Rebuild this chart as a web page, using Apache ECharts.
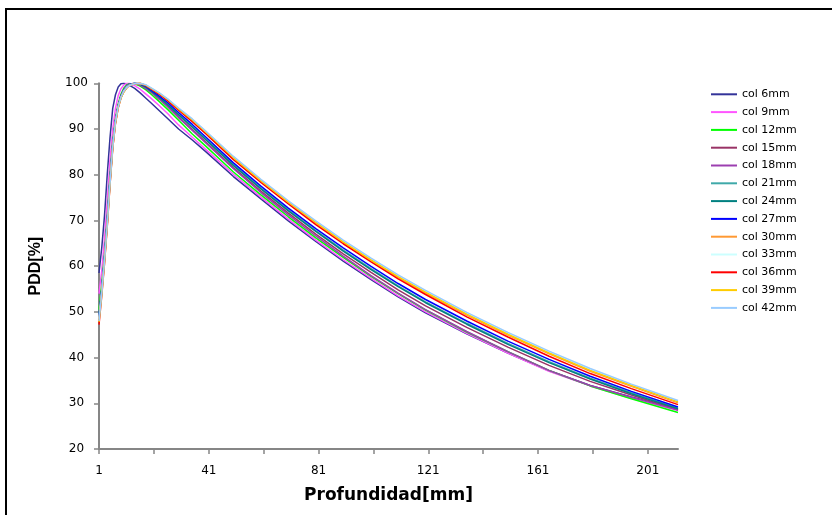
<!DOCTYPE html>
<html><head><meta charset="utf-8">
<script src="https://cdn.jsdelivr.net/npm/echarts@6/dist/echarts.min.js"></script>
<style>html,body{margin:0;padding:0;background:#fff}#c{width:832px;height:515px}</style>
</head><body><div id="c"></div>
<script>
// depth in mm (x values)
const depths = [1,2,3,4,5,6,7,8,9,10,11,12,14,16,18,20,23,26,30,35,40,50,60,70,80,90,100,110,120,135,150,165,180,195,212];

const col6  = [58.5,64.0,71.0,80.0,88.0,94.5,97.5,99.2,99.9,100,99.9,99.6,98.9,97.9,96.8,95.7,94.0,92.3,90.0,87.6,85.0,79.6,74.7,69.9,65.4,61.1,57.1,53.3,49.8,45.2,41.0,37.1,33.9,31.4,28.7];
const col9  = [54.0,59.0,66.0,74.0,83.0,90.0,94.5,97.3,98.8,99.6,100,100,99.5,98.7,97.7,96.7,95.1,93.4,90.9,88.2,85.5,80.1,75.1,70.3,65.7,61.4,57.4,53.5,50.0,45.3,41.0,37.0,33.8,31.1,28.4];
const col12 = [50.5,56.0,62.5,70.5,79.5,87.2,92.2,95.5,97.6,98.9,99.6,99.9,99.9,99.4,98.6,97.6,96.0,94.3,91.9,88.9,86.2,80.6,75.6,70.8,66.2,61.9,57.8,54.0,50.4,45.6,41.3,37.2,33.8,31.0,28.0];
const col15 = [49.0,55.0,61.8,69.8,78.8,86.6,91.9,95.2,97.3,98.6,99.4,99.8,100,99.6,98.9,98.1,96.6,95.0,92.6,89.9,87.1,81.5,76.4,71.6,67.0,62.7,58.7,54.8,51.3,46.6,42.3,38.3,34.8,31.8,28.6];
const col18 = [48.5,54.4,61.3,69.3,78.3,86.2,91.6,95.0,97.1,98.5,99.3,99.8,100,99.6,98.9,98.0,96.5,94.9,92.5,89.7,86.9,81.3,76.1,71.2,66.6,62.2,58.0,54.1,50.5,45.7,41.3,37.2,33.9,31.3,28.5];
const col21 = [49.5,55.2,62.0,70.0,79.0,86.7,91.9,95.1,97.2,98.5,99.3,99.8,100,99.8,99.2,98.4,97.0,95.5,93.2,90.6,87.8,82.2,77.1,72.3,67.8,63.5,59.5,55.7,52.2,47.5,43.1,39.1,35.5,32.3,28.9];
const col24 = [49.0,54.8,61.7,69.7,78.7,86.5,91.8,95.0,97.1,98.4,99.2,99.7,100,99.8,99.2,98.3,96.9,95.3,93.1,90.4,87.6,82.0,76.9,72.1,67.6,63.3,59.3,55.5,52.0,47.3,42.9,38.9,35.3,32.1,28.8];
const col27 = [48.8,54.6,61.6,69.6,78.6,86.4,91.7,95.0,97.1,98.4,99.2,99.7,100,99.9,99.4,98.5,97.2,95.8,93.6,91.0,88.2,82.6,77.5,72.7,68.2,64.0,60.0,56.2,52.7,48.0,43.6,39.6,35.9,32.6,29.2];
const col30 = [48.3,54.2,61.2,69.2,78.2,86.1,91.4,94.8,96.9,98.2,99.0,99.5,99.9,100,99.6,98.8,97.7,96.3,94.3,91.8,89.1,83.6,78.6,73.9,69.4,65.2,61.3,57.5,54.1,49.3,44.9,40.8,37.0,33.7,30.1];
const col33 = [48.5,54.5,61.5,69.5,78.5,86.3,91.6,94.9,97.0,98.3,99.1,99.6,100,99.9,99.6,98.9,97.8,96.5,94.4,92.0,89.3,83.8,78.8,74.1,69.7,65.5,61.6,57.9,54.5,49.7,45.3,41.2,37.4,34.0,30.4];
const col36 = [47.2,53.5,60.5,68.6,77.6,85.7,91.2,94.6,96.8,98.1,98.9,99.5,99.9,100,99.5,98.8,97.6,96.2,94.1,91.6,88.9,83.3,78.3,73.6,69.1,64.9,61.0,57.2,53.8,48.9,44.5,40.3,36.5,33.2,29.7];
const col39 = [47.8,53.8,60.8,68.8,77.8,85.8,91.3,94.7,96.8,98.1,98.9,99.5,99.9,100,99.6,98.9,97.8,96.5,94.4,92.0,89.3,83.7,78.7,74.0,69.6,65.3,61.4,57.7,54.3,49.5,45.1,41.0,37.2,33.9,30.3];
const col42 = [48.0,54.0,61.0,69.0,78.0,86.0,91.5,94.8,96.9,98.2,99.0,99.5,99.9,100,99.7,99.0,97.9,96.6,94.6,92.2,89.5,84.0,79.0,74.3,69.9,65.7,61.8,58.1,54.7,49.9,45.5,41.4,37.6,34.2,30.6];

const seriesNames = ['col 6mm','col 9mm','col 12mm','col 15mm','col 18mm','col 21mm','col 24mm','col 27mm','col 30mm','col 33mm','col 36mm','col 39mm','col 42mm'];
const seriesValues = [col6,col9,col12,col15,col18,col21,col24,col27,col30,col33,col36,col39,col42];
const seriesColors = ['#333399','#ff55ff','#00ff00','#993366','#9c3fb0','#3fa9a9','#008080','#0000ff','#ff9933','#ccffff','#ff0000','#ffcc00','#99ccff'];

const xLabelValues = [1,41,81,121,161,201];
const xTickValues = [1,21,41,61,81,101,121,141,161,181,201];
const xMin = 1, xMax = 212;
const yMin = 20, yMax = 100, yStep = 10;

const chart = echarts.init(document.getElementById('c'), null, {renderer: 'canvas'});
chart.setOption({
  animation: false,
  backgroundColor: '#ffffff',
  graphic: [{
    type: 'rect', silent: true, z: 100,
    shape: {x: 6, y: 9, width: 900, height: 600},
    style: {fill: 'none', stroke: '#000000', lineWidth: 2}
  }],
  grid: {left: 99, right: 154, top: 83.3, bottom: 66, containLabel: false},
  legend: {
    orient: 'vertical', left: 711, top: 88.3, padding: 0,
    icon: 'rect', itemWidth: 26, itemHeight: 2, itemGap: 5.8, itemTextGap: 4,
    itemStyle: {borderWidth: 0},
    textStyle: {fontFamily: 'DejaVu Sans', fontSize: 11, color: '#000', lineHeight: 12, padding: [0,0,0,0]},
    data: seriesNames
  },
  xAxis: {
    type: 'value', min: xMin, max: xMax,
    name: 'Profundidad[mm]', nameLocation: 'middle', nameGap: 38,
    nameTextStyle: {fontFamily: 'DejaVu Sans', fontWeight: 'bold', fontSize: 17, color: '#000'},
    axisLine: {show: true, lineStyle: {color: '#868686', width: 2}},
    axisTick: {show: true, customValues: xTickValues, length: 5, inside: false, lineStyle: {color: '#868686', width: 1.5}},
    axisLabel: {customValues: xLabelValues, fontFamily: 'DejaVu Sans', fontSize: 12, color: '#000', margin: 16},
    splitLine: {show: false}
  },
  yAxis: {
    type: 'value', min: yMin, max: yMax, interval: yStep,
    name: 'PDD[%]', nameLocation: 'middle', nameGap: 55, nameRotate: 90,
    nameTextStyle: {fontFamily: 'Liberation Sans', fontWeight: 'bold', fontSize: 16, color: '#000'},
    axisLine: {show: true, lineStyle: {color: '#868686', width: 2}},
    axisTick: {show: true, length: 5, lineStyle: {color: '#868686', width: 1.5}},
    axisLabel: {fontFamily: 'DejaVu Sans', fontSize: 12, color: '#000', align: 'center', margin: 22.5},
    splitLine: {show: false}
  },
  series: seriesNames.map((name, k) => ({
    name: name,
    type: 'line',
    symbol: 'none',
    smooth: false,
    color: seriesColors[k],
    lineStyle: {width: 1.5, color: seriesColors[k]},
    data: depths.map((d, i) => [d, seriesValues[k][i]])
  }))
});
</script>
</body></html>
